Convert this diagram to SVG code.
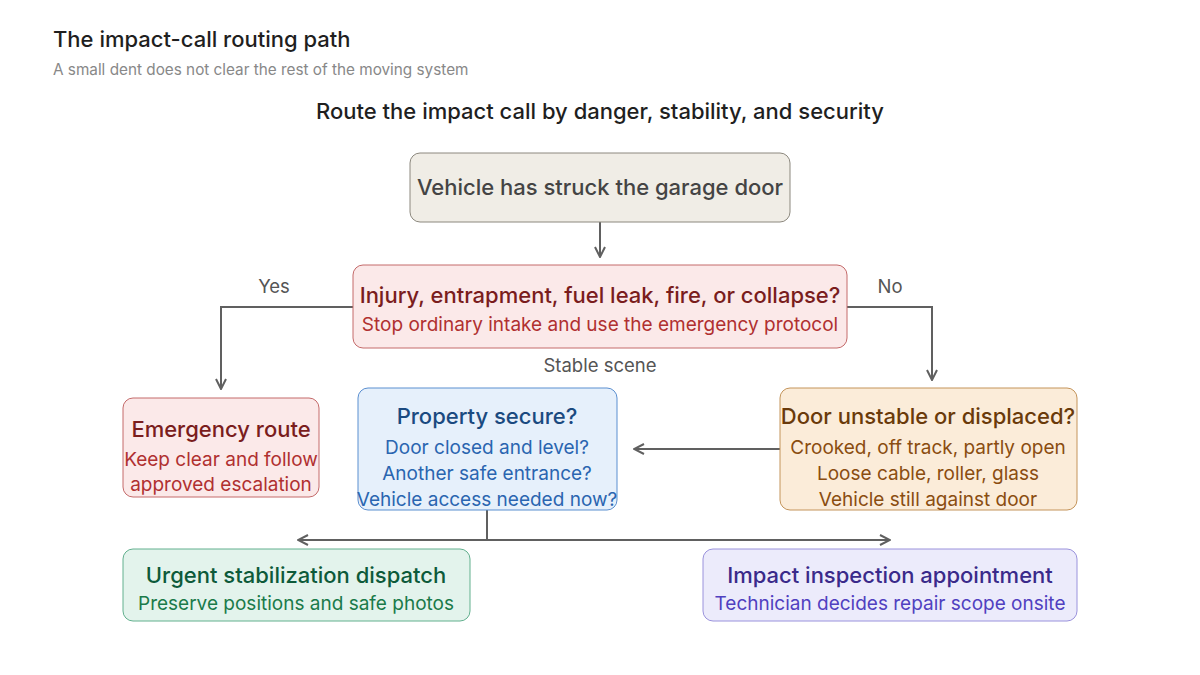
<svg xmlns="http://www.w3.org/2000/svg" width="1200" height="675" viewBox="0 0 1200 675">
<defs>
<marker id="arr" viewBox="0 0 12 12" refX="11" refY="6" markerWidth="12" markerHeight="12" markerUnits="userSpaceOnUse" orient="auto-start-reverse">
<path d="M1,1 L11,6 L1,11" fill="none" stroke="#606060" stroke-width="2"/>
</marker>
</defs>
<style>
text{font-family:Inter,"Liberation Sans",sans-serif;text-anchor:middle}
.t{font-size:22px;font-weight:500}
.s{font-size:19px}
.c{fill:none;stroke:#606060;stroke-width:2}
.lbl{font-size:18.5px;fill:#555}
</style>
<rect width="1200" height="675" fill="#ffffff"/>
<text x="53" y="47" style="text-anchor:start;font-size:22px;font-weight:500" fill="#1f1f1f">The impact-call routing path</text>
<text x="53" y="75" style="text-anchor:start;font-size:15.3px" fill="#888">A small dent does not clear the rest of the moving system</text>
<text x="600" y="119" style="font-size:22px;font-weight:500" fill="#1f1f1f">Route the impact call by danger, stability, and security</text>

<g id="connectors">
<path class="c" d="M600,222 V257" marker-end="url(#arr)"/>
<path class="c" d="M353,307 H221 V389" marker-end="url(#arr)"/>
<path class="c" d="M847,307 H932 V380" marker-end="url(#arr)"/>
<path class="c" d="M780,449 H634" marker-end="url(#arr)"/>
<path class="c" d="M487,510 V540"/>
<path class="c" d="M298,540 H890" marker-start="url(#arr)" marker-end="url(#arr)"/>
<text class="lbl" x="274" y="293">Yes</text>
<text class="lbl" x="890" y="293">No</text>
<text class="lbl" x="600" y="372">Stable scene</text>
</g>

<g id="start">
<rect x="410" y="153" width="380" height="69" rx="10" fill="#f0ede6" stroke="#8c887e"/>
<text class="t" x="600" y="195" fill="#444">Vehicle has struck the garage door</text>
</g>

<g id="danger">
<rect x="353" y="265" width="494" height="83" rx="10" fill="#fbe9e9" stroke="#c46a6a"/>
<text class="t" x="600" y="303" fill="#7a1d1d">Injury, entrapment, fuel leak, fire, or collapse?</text>
<text class="s" x="600" y="331" fill="#b03030">Stop ordinary intake and use the emergency protocol</text>
</g>

<g id="emergency">
<rect x="123" y="398" width="196" height="99" rx="10" fill="#fbe9e9" stroke="#c46a6a"/>
<text class="t" x="221" y="437" fill="#7a1d1d">Emergency route</text>
<text class="s" x="221" y="466" fill="#b03030">Keep clear and follow</text>
<text class="s" x="221" y="491" fill="#b03030">approved escalation</text>
</g>

<g id="property">
<rect x="358" y="388" width="259" height="122" rx="10" fill="#e6f0fb" stroke="#5b8fd0"/>
<text class="t" x="487" y="424" fill="#1a4a80">Property secure?</text>
<text class="s" x="487" y="454" fill="#2a65b0">Door closed and level?</text>
<text class="s" x="487" y="480" fill="#2a65b0">Another safe entrance?</text>
<text class="s" x="487" y="506" fill="#2a65b0">Vehicle access needed now?</text>
</g>

<g id="door">
<rect x="780" y="388" width="297" height="122" rx="10" fill="#fbecd9" stroke="#c4945a"/>
<text class="t" x="928" y="424" fill="#6a3a0a">Door unstable or displaced?</text>
<text class="s" x="928" y="454" fill="#8a4d10">Crooked, off track, partly open</text>
<text class="s" x="928" y="480" fill="#8a4d10">Loose cable, roller, glass</text>
<text class="s" x="928" y="506" fill="#8a4d10">Vehicle still against door</text>
</g>

<g id="urgent">
<rect x="123" y="549" width="347" height="72" rx="10" fill="#e3f3ec" stroke="#62b08e"/>
<text class="t" x="296" y="583" fill="#0d5a3a">Urgent stabilization dispatch</text>
<text class="s" x="296" y="610" fill="#1a7a4a">Preserve positions and safe photos</text>
</g>

<g id="inspection">
<rect x="703" y="549" width="374" height="72" rx="10" fill="#ecebfb" stroke="#9a92dc"/>
<text class="t" x="890" y="583" fill="#3a2a8a">Impact inspection appointment</text>
<text class="s" x="890" y="610" fill="#5040c0">Technician decides repair scope onsite</text>
</g>
</svg>
